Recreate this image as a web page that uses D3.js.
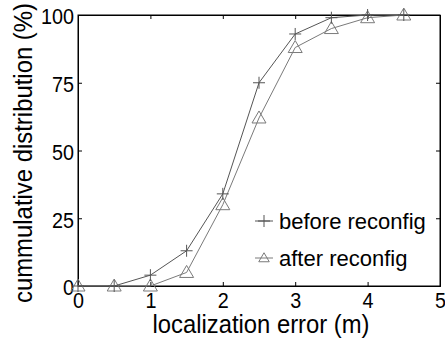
<!DOCTYPE html>
<html>
<head>
<meta charset="utf-8">
<script src="https://cdn.jsdelivr.net/npm/d3@7"></script>
<style>
  body { margin: 0; background: #fff; }
  text { font-family: "Liberation Sans", Arial, sans-serif; fill: #000; }
</style>
</head>
<body>
<script>
const margin = { top: 15, right: 5, bottom: 53, left: 78 };
const width = 445;
const height = 339;

const xValues = [0, 0.5, 1, 1.5, 2, 2.5, 3, 3.5, 4, 4.5];
const before = [0, 0, 4, 13, 34, 75, 93, 99, 100, 100];
const after = [0, 0, 0, 5, 30, 62, 88, 95, 99, 100];
const xTicks = [0, 1, 2, 3, 4, 5];
const yTicks = [0, 25, 50, 75, 100];
const seriesNames = ["before reconfig", "after reconfig"];

const w = width - margin.left - margin.right;
const h = height - margin.top - margin.bottom;

const svg = d3.select("body").append("svg")
  .attr("width", width)
  .attr("height", height);

const chart = svg.append("g").attr("transform", `translate(${margin.left},${margin.top})`);

const xScale = d3.scaleLinear().domain([0, 5]).range([0, w]);
const yScale = d3.scaleLinear().domain([0, 100]).range([h, 0]);

// 外框
chart.append("rect")
  .attr("width", w).attr("height", h)
  .attr("fill", "none").attr("stroke", "#000").attr("stroke-width", 1);

const xAxis = d3.axisBottom(xScale).tickValues(xTicks).tickSize(-4).tickPadding(6).tickFormat(d3.format("d"));
const yAxis = d3.axisLeft(yScale).tickValues(yTicks).tickSize(-4).tickPadding(4);

const gx = chart.append("g").attr("transform", `translate(0,${h})`).call(xAxis);
const gy = chart.append("g").call(yAxis);
// 上/右側刻度
chart.append("g").call(d3.axisTop(xScale).tickValues(xTicks).tickSize(-4).tickFormat(""));
chart.append("g").attr("transform", `translate(${w},0)`).call(d3.axisRight(yScale).tickValues(yTicks).tickSize(-4).tickFormat(""));

chart.selectAll(".domain").attr("stroke", "#000");
chart.selectAll(".tick line").attr("stroke", "#000");
// 字型略窄略高
const squeeze = sel => sel
  .attr("font-size", 22)
  .attr("fill", "#000")
  .attr("textLength", function() { return this.textContent.length * 11; })
  .attr("lengthAdjust", "spacingAndGlyphs");
gx.selectAll("text").call(squeeze);
gy.selectAll("text").call(squeeze).attr("dy", "0.4em");

const seriesData = [
  { name: seriesNames[0], values: before, color: "#555", marker: "plus" },
  { name: seriesNames[1], values: after, color: "#7a7a7a", marker: "triangle" }
];

const line = d3.line().x((d, i) => xScale(xValues[i])).y(d => yScale(d));

const drawMarker = (g, type, color, s = 1) => {
  const path = type === "plus"
    ? `M${-6 * s},0H${6 * s}M0,${-6 * s}V${6 * s}`
    : `M0,${-7 * s}L${7 * s},${5 * s}H${-7 * s}Z`;
  g.append("path").attr("d", path).attr("stroke", color).attr("fill", "none").attr("stroke-width", 1);
};

seriesData.slice().reverse().forEach(s => {
  chart.append("path")
    .datum(s.values)
    .attr("d", line)
    .attr("fill", "none")
    .attr("stroke", s.color)
    .attr("stroke-width", 1);
  s.values.forEach((v, i) => {
    const g = chart.append("g").attr("transform", `translate(${xScale(xValues[i])},${yScale(v)})`);
    drawMarker(g, s.marker, s.color);
  });
});

// 圖例
seriesData.forEach((s, i) => {
  const ly = 221 + i * 37 - margin.top;
  const g = chart.append("g").attr("transform", `translate(${264 - margin.left},${ly})`);
  g.append("line").attr("x1", -9).attr("x2", 9).attr("stroke", s.color);
  drawMarker(g, s.marker, s.color, s.marker === "plus" ? 1 : 0.75);
  g.append("text").attr("x", 15).attr("dy", "0.36em").attr("font-size", 22).text(s.name);
});

// 軸標題
svg.append("text")
  .attr("x", 261).attr("y", 333)
  .attr("text-anchor", "middle").attr("font-size", 26)
  .attr("textLength", 217).attr("lengthAdjust", "spacingAndGlyphs")
  .text("localization error (m)");

svg.append("text")
  .attr("transform", `translate(32,153) rotate(-90)`)
  .attr("text-anchor", "middle").attr("font-size", 26)
  .attr("textLength", 300).attr("lengthAdjust", "spacingAndGlyphs")
  .text("cummulative distribution (%)");
</script>
</body>
</html>
